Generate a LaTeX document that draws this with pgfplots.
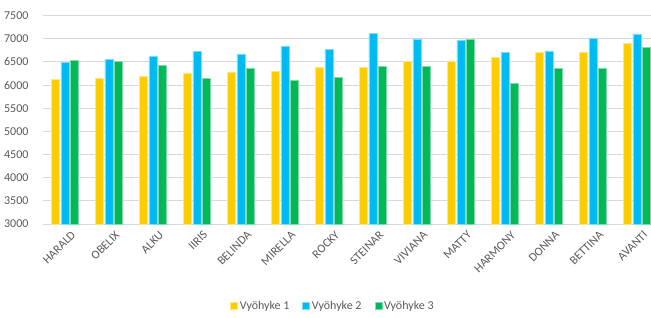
\documentclass[border=0pt]{standalone}
\usepackage{fontspec}
\setmainfont{Carlito}
\usepackage{pgfplots}
\pgfplotsset{compat=1.18}
\definecolor{cy}{HTML}{FFCC00}
\definecolor{cb}{HTML}{00BAF2}
\definecolor{cg}{HTML}{00B858}
\definecolor{txt}{HTML}{595959}
\definecolor{grd}{HTML}{D9D9D9}
\begin{document}
\begin{tikzpicture}
\useasboundingbox (-43pt,-94pt) rectangle (608pt,224pt);
\begin{axis}[
  anchor=south west, at={(0pt,0pt)},
  scale only axis, width=608pt, height=208.5pt,
  ybar=1.7pt, bar width=8pt,
  xmin=-0.5, xmax=13.32,
  ymin=3000, ymax=7500,
  ytick={3000,3500,...,7500},
  xtick={0,...,13},
  xticklabels={HARALD,OBELIX,ALKU,IIRIS,BELINDA,MIRELLA,ROCKY,STEINAR,VIVIANA,MATTY,HARMONY,DONNA,BETTINA,AVANTI},
  axis x line*=bottom, axis y line*=left,
  x axis line style={grd, line width=0.8pt, -},
  y axis line style={draw=none},
  ymajorgrids, grid style={grd, line width=0.8pt},
  major tick length=0pt,
  tick style={draw=none},
  scaled y ticks=false,
  /pgf/number format/1000 sep={},
  /pgf/number format/assume math mode=true,
  ticklabel style={font=\fontsize{12}{14}\selectfont, text=txt},
  yticklabel style={anchor=east, xshift=-11pt},
  xticklabel style={rotate=45, anchor=north east, xshift=3pt, yshift=-5pt},
  legend columns=-1,
  legend style={at={(0.477,-0.393)}, anchor=center, draw=none, fill=none,
    font=\fontsize{12}{14}\selectfont, text=txt,
    /tikz/every even column/.append style={column sep=11pt},
    /tikz/every odd column/.append style={column sep=0pt}},
  legend image code/.code={\fill[#1] (0pt,-3.5pt) rectangle (7pt,3.5pt);},
  clip=false,
]
\addplot[fill=cy, draw=cy!50!white, line width=0.5pt] coordinates {
(0,6122) (1,6151) (2,6187) (3,6259) (4,6280) (5,6295) (6,6374)
(7,6381) (8,6511) (9,6518) (10,6597) (11,6698) (12,6712) (13,6892)};
\addplot[fill=cb, draw=cb!50!white, line width=0.5pt] coordinates {
(0,6482) (1,6561) (2,6611) (3,6719) (4,6669) (5,6842) (6,6770)
(7,7108) (8,6993) (9,6971) (10,6712) (11,6734) (12,7014) (13,7101)};
\addplot[fill=cg, draw=cg!50!white, line width=0.5pt] coordinates {
(0,6525) (1,6511) (2,6424) (3,6151) (4,6352) (5,6093) (6,6165)
(7,6410) (8,6403) (9,6986) (10,6043) (11,6360) (12,6360) (13,6806)};
\legend{Vyöhyke 1,Vyöhyke 2,Vyöhyke 3}
\end{axis}
\end{tikzpicture}
\end{document}
